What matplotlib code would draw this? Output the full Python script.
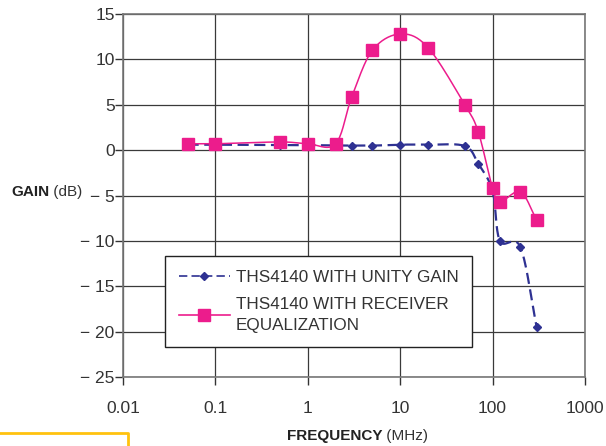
import numpy as np
import matplotlib.pyplot as plt
from matplotlib.lines import Line2D

plt.rcParams['font.family'] = ['Liberation Sans', 'DejaVu Sans']

# data
freq_unity = [0.05, 0.1, 0.5, 1, 2, 3, 5, 10, 20, 50, 70, 100, 120, 200, 300]
gain_unity = [0.6, 0.6, 0.55, 0.55, 0.5, 0.5, 0.5, 0.6, 0.6, 0.45, -1.5, -4.5, -10.0, -10.7, -19.5]

freq_eq = [0.05, 0.1, 0.5, 1, 2, 3, 5, 10, 20, 50, 70, 100, 120, 200, 300]
gain_eq = [0.7, 0.7, 0.9, 0.7, 0.7, 5.9, 11.0, 12.8, 11.3, 5.0, 2.0, -4.2, -5.7, -4.6, -7.7]

y_ticks = [-25, -20, -15, -10, -5, 0, 5, 10, 15]
x_ticks = [0.01, 0.1, 1, 10, 100, 1000]
x_labels = ['0.01', '0.1', '1', '10', '100', '1000']


def smooth(xs, ys, n=20):
    # catmull-rom curve through the points, in log-x space (like Excel smoothing)
    lx = np.log10(xs)
    y = np.asarray(ys, float)
    px = np.concatenate([[2 * lx[0] - lx[1]], lx, [2 * lx[-1] - lx[-2]]])
    py = np.concatenate([[2 * y[0] - y[1]], y, [2 * y[-1] - y[-2]]])
    t = np.linspace(0, 1, n)
    ox, oy = [], []
    for i in range(1, len(px) - 2):
        for arr, out in ((px, ox), (py, oy)):
            p0, p1, p2, p3 = arr[i - 1], arr[i], arr[i + 1], arr[i + 2]
            out.extend(0.5 * (2 * p1 + (-p0 + p2) * t
                              + (2 * p0 - 5 * p1 + 4 * p2 - p3) * t ** 2
                              + (-p0 + 3 * p1 - 3 * p2 + p3) * t ** 3))
    return 10 ** np.array(ox), np.array(oy)


blue = '#2E3192'
pink = '#EC1C8C'
grid_c = '#3a3a3a'

fig = plt.figure(figsize=(6.06, 4.46), dpi=100)
ax = fig.add_axes([123 / 606, 1 - 377 / 446, 462 / 606, 363 / 446])

ax.set_xscale('log')
ax.set_xlim(0.01, 1000)
ax.set_ylim(-25, 15)

ax.grid(True, which='major', color=grid_c, linewidth=0.9)
ax.set_axisbelow(True)

sx, sy = smooth(freq_unity, gain_unity)
ax.plot(sx, sy, color=blue, linestyle=(0, (5, 2.5)), linewidth=1.6, zorder=3)
ax.plot(freq_unity, gain_unity, linestyle='none', marker='D', markersize=4.5,
        color=blue, zorder=4)

sx, sy = smooth(freq_eq, gain_eq)
ax.plot(sx, sy, color=pink, linewidth=1.1, zorder=5)
ax.plot(freq_eq, gain_eq, linestyle='none', marker='s', markersize=8.5,
        color=pink, zorder=6)

ax.set_yticks(y_ticks)
ax.set_yticklabels([('\u2212 ' + str(-v)) if v < 0 else str(v) for v in y_ticks])
ax.set_xticks(x_ticks)
ax.set_xticklabels(x_labels)
ax.xaxis.set_minor_locator(plt.NullLocator())
ax.tick_params(axis='both', labelsize=12.5, colors='#333333', length=6,
               width=1, direction='out')
ax.tick_params(axis='y', pad=0)
ax.tick_params(axis='x', pad=11)
for s in ax.spines.values():
    s.set_color('#777777')
    s.set_linewidth(1.2)

# legend
h1 = Line2D([], [], color=blue, linestyle=(0, (5, 2.5)), linewidth=1.2,
            marker='D', markersize=4.5)
h2 = Line2D([], [], color=pink, linewidth=1.2, marker='s', markersize=8.5)
leg = ax.legend([h1, h2], ['THS4140 WITH UNITY GAIN', 'THS4140 WITH RECEIVER\nEQUALIZATION'],
                loc='upper left', bbox_to_anchor=(42 / 462, 1 - (256 - 14) / 363),
                fontsize=12.3, frameon=True, fancybox=False, framealpha=1,
                edgecolor='#222222', handlelength=3, handletextpad=0.35,
                borderpad=0.8, labelspacing=0.75, borderaxespad=0)
leg.get_frame().set_linewidth(1.0)
for t in leg.get_texts():
    t.set_color('#333333')
    t.set_linespacing(1.45)

# axis titles: bold word + normal unit
t1 = fig.text(11 / 606, 1 - 192 / 446, 'GAIN', fontsize=11, fontweight='bold',
              color='#222222', va='center', ha='left')
ax.annotate(' (dB)', xy=(1, 0.5), xycoords=t1, va='center', ha='left',
            fontsize=11, color='#333333')
t2 = fig.text(287 / 606, 1 - 436 / 446, 'FREQUENCY', fontsize=11, fontweight='bold',
              color='#222222', va='center', ha='left')
ax.annotate(' (MHz)', xy=(1, 0.5), xycoords=t2, va='center', ha='left',
            fontsize=11, color='#333333')

# yellow box corner at the bottom-left of the page
fig.add_artist(Line2D([0, 128 / 606, 128 / 606], [1 - 433 / 446, 1 - 433 / 446, 0],
                      transform=fig.transFigure, color='#FFC20E', linewidth=2))

fig.savefig('out.png', dpi=100)
